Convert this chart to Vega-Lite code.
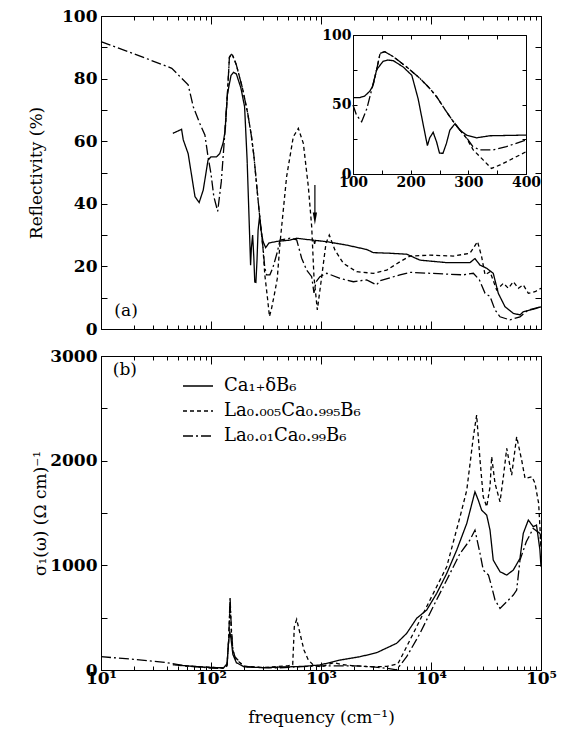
{
  "$schema": "https://vega.github.io/schema/vega-lite/v6.json",
  "background": "white",
  "padding": {"left": 27, "top": 6, "right": 5, "bottom": 5},
  "config": {
    "view": {"stroke": "black", "strokeWidth": 1},
    "axis": {
      "labelFont": "DejaVu Serif", "labelFontWeight": "bold", "labelFontSize": 17, "labelColor": "black",
      "titleFont": "DejaVu Serif", "titleFontWeight": "normal", "titleFontSize": 17, "titleColor": "black",
      "domainColor": "black", "tickColor": "black", "tickOpacity": 1, "tickWidth": 1, "grid": false, "labelFlush": false, "labelOverlap": false
    },
    "legend": {
      "orient": "none", "legendX": 81, "legendY": 14, "symbolType": "stroke", "symbolSize": 900,
      "symbolStrokeWidth": 1.3, "symbolStrokeColor": "black", "labelFont": "DejaVu Serif", "labelFontSize": 18,
      "labelColor": "black", "labelOffset": 10, "rowPadding": 0, "padding": 0, "labelLimit": 400
    }
  },
  "datasets": {
    "refl": [
      {"s":"A","f":45,"r":62.5},{"s":"A","f":54,"r":63.8},{"s":"A","f":56,"r":60.4},{"s":"A","f":62,"r":56},
      {"s":"A","f":71.5,"r":42.3},{"s":"A","f":78,"r":40.4},{"s":"A","f":85,"r":44.4},{"s":"A","f":94,"r":54},
      {"s":"A","f":100,"r":55},{"s":"A","f":112,"r":55},{"s":"A","f":120,"r":56},{"s":"A","f":129,"r":59.5},
      {"s":"A","f":134,"r":63},{"s":"A","f":141,"r":75},{"s":"A","f":152,"r":81},{"s":"A","f":160,"r":82},
      {"s":"A","f":170,"r":81.5},{"s":"A","f":187,"r":77},{"s":"A","f":202,"r":71},{"s":"A","f":213,"r":54},
      {"s":"A","f":222,"r":35},{"s":"A","f":229,"r":20.4},{"s":"A","f":233,"r":26},{"s":"A","f":239,"r":30},
      {"s":"A","f":245,"r":23},{"s":"A","f":250,"r":15},{"s":"A","f":256,"r":14.9},{"s":"A","f":262,"r":22},
      {"s":"A","f":268,"r":31.6},{"s":"A","f":277,"r":36.2},{"s":"A","f":285,"r":31.6},{"s":"A","f":297,"r":28},
      {"s":"A","f":314,"r":26},{"s":"A","f":337,"r":27.5},{"s":"A","f":400,"r":28},{"s":"A","f":523,"r":28.4},
      {"s":"A","f":601,"r":29},{"s":"A","f":741,"r":28.6},{"s":"A","f":860,"r":28.4},{"s":"A","f":875,"r":27.2},
      {"s":"A","f":890,"r":28.3},{"s":"A","f":1127,"r":27.9},{"s":"A","f":1713,"r":26.8},{"s":"A","f":2603,"r":25.4},
      {"s":"A","f":2990,"r":24.4},{"s":"A","f":4240,"r":24.2},{"s":"A","f":6010,"r":23.9},{"s":"A","f":7943,"r":22},
      {"s":"A","f":13900,"r":21.2},{"s":"A","f":22600,"r":21.2},{"s":"A","f":25100,"r":22.5},{"s":"A","f":27900,"r":20.4},
      {"s":"A","f":32100,"r":19.4},{"s":"A","f":36800,"r":17.8},{"s":"A","f":40900,"r":11.4},{"s":"A","f":47100,"r":7.1},
      {"s":"A","f":56000,"r":5},{"s":"A","f":64400,"r":4.5},{"s":"A","f":69000,"r":5.5},{"s":"A","f":85000,"r":6.3},
      {"s":"A","f":100000,"r":7.1},
      {"s":"B","f":135,"r":64},{"s":"B","f":141,"r":75},{"s":"B","f":147,"r":86.8},{"s":"B","f":155,"r":88},
      {"s":"B","f":170,"r":84.4},{"s":"B","f":193,"r":77},{"s":"B","f":216,"r":68.8},{"s":"B","f":233,"r":61.6},
      {"s":"B","f":245,"r":55.6},{"s":"B","f":262,"r":44.8},{"s":"B","f":277,"r":36},{"s":"B","f":297,"r":25.7},
      {"s":"B","f":308.5,"r":17.3},{"s":"B","f":326,"r":10},{"s":"B","f":340,"r":4},{"s":"B","f":355,"r":6.5},
      {"s":"B","f":378,"r":11.3},{"s":"B","f":400,"r":16},{"s":"B","f":424,"r":27.4},{"s":"B","f":487,"r":48.7},
      {"s":"B","f":560,"r":61.4},{"s":"B","f":622,"r":64.1},{"s":"B","f":691,"r":59.3},{"s":"B","f":767,"r":45.5},
      {"s":"B","f":823,"r":32.7},{"s":"B","f":863,"r":16.7},{"s":"B","f":926,"r":6.1},{"s":"B","f":1015,"r":16.7},
      {"s":"B","f":1110,"r":27.4},{"s":"B","f":1190,"r":30},{"s":"B","f":1340,"r":25.2},{"s":"B","f":1595,"r":21},
      {"s":"B","f":2110,"r":18.3},{"s":"B","f":2990,"r":17.8},{"s":"B","f":3953,"r":18.8},{"s":"B","f":5224,"r":21.5},
      {"s":"B","f":6440,"r":23.3},{"s":"B","f":9790,"r":23.6},{"s":"B","f":15960,"r":23.3},{"s":"B","f":22600,"r":24.2},
      {"s":"B","f":26500,"r":27.9},{"s":"B","f":28850,"r":23.1},{"s":"B","f":31000,"r":17.3},{"s":"B","f":34400,"r":18.3},
      {"s":"B","f":39500,"r":12.5},{"s":"B","f":45500,"r":14.6},{"s":"B","f":50500,"r":13},{"s":"B","f":56000,"r":15.1},
      {"s":"B","f":62200,"r":13},{"s":"B","f":69000,"r":14.1},{"s":"B","f":76700,"r":11.4},{"s":"B","f":88200,"r":11.9},
      {"s":"B","f":100000,"r":13},
      {"s":"C","f":10,"r":91.8},{"s":"C","f":19.7,"r":88},{"s":"C","f":44,"r":83.3},{"s":"C","f":62,"r":78},
      {"s":"C","f":69,"r":71},{"s":"C","f":79,"r":65.7},{"s":"C","f":88,"r":62},{"s":"C","f":94,"r":55},
      {"s":"C","f":100,"r":49.6},{"s":"C","f":106,"r":42.4},{"s":"C","f":115,"r":37.6},{"s":"C","f":124,"r":47},
      {"s":"C","f":132,"r":60},{"s":"C","f":141,"r":75},{"s":"C","f":147,"r":86.8},{"s":"C","f":155,"r":88},
      {"s":"C","f":170,"r":84.4},{"s":"C","f":193,"r":77},{"s":"C","f":216,"r":68.8},{"s":"C","f":233,"r":61.6},
      {"s":"C","f":245,"r":55.6},{"s":"C","f":262,"r":44.8},{"s":"C","f":277,"r":36},{"s":"C","f":297,"r":26},
      {"s":"C","f":308,"r":19.7},{"s":"C","f":320,"r":17.3},{"s":"C","f":343,"r":17.3},{"s":"C","f":366,"r":19.7},
      {"s":"C","f":400,"r":24.5},{"s":"C","f":424,"r":28.4},{"s":"C","f":523,"r":29},{"s":"C","f":601,"r":28.5},
      {"s":"C","f":667,"r":22.6},{"s":"C","f":741,"r":18.8},{"s":"C","f":823,"r":16.7},{"s":"C","f":863,"r":11.5},
      {"s":"C","f":900,"r":15},{"s":"C","f":977,"r":16.7},{"s":"C","f":1127,"r":17.8},{"s":"C","f":1490,"r":16.2},
      {"s":"C","f":1970,"r":15.1},{"s":"C","f":2603,"r":15.7},{"s":"C","f":3200,"r":14.1},{"s":"C","f":3437,"r":15.4},
      {"s":"C","f":5224,"r":17.3},{"s":"C","f":6440,"r":18.1},{"s":"C","f":9790,"r":17.8},{"s":"C","f":19680,"r":17.3},
      {"s":"C","f":24270,"r":17.8},{"s":"C","f":27540,"r":15.7},{"s":"C","f":31000,"r":11.4},{"s":"C","f":34400,"r":10.4},
      {"s":"C","f":38200,"r":6.1},{"s":"C","f":42400,"r":3.9},{"s":"C","f":52200,"r":2.9},{"s":"C","f":64400,"r":3.9},
      {"s":"C","f":76700,"r":6.1},{"s":"C","f":100000,"r":7.1}
    ],
    "cond": [
      {"s":"A","f":45,"c":50},{"s":"A","f":60,"c":40},{"s":"A","f":80,"c":30},{"s":"A","f":100,"c":25},
      {"s":"A","f":130,"c":20},{"s":"A","f":140,"c":60},{"s":"A","f":144,"c":250},{"s":"A","f":148,"c":370},
      {"s":"A","f":152,"c":300},{"s":"A","f":158,"c":150},{"s":"A","f":170,"c":70},{"s":"A","f":200,"c":30},
      {"s":"A","f":300,"c":22},{"s":"A","f":500,"c":30},{"s":"A","f":700,"c":35},{"s":"A","f":977,"c":48},
      {"s":"A","f":1490,"c":95},{"s":"A","f":2264,"c":127},{"s":"A","f":3200,"c":165},{"s":"A","f":4870,"c":255},
      {"s":"A","f":6010,"c":350},{"s":"A","f":7410,"c":494},{"s":"A","f":9140,"c":573},{"s":"A","f":11280,"c":733},
      {"s":"A","f":13900,"c":923},{"s":"A","f":17140,"c":1146},{"s":"A","f":21150,"c":1401},{"s":"A","f":25100,"c":1703},
      {"s":"A","f":26900,"c":1623},{"s":"A","f":28850,"c":1528},{"s":"A","f":32100,"c":1480},{"s":"A","f":34400,"c":1337},
      {"s":"A","f":36800,"c":1050},{"s":"A","f":42400,"c":939},{"s":"A","f":48800,"c":907},{"s":"A","f":56000,"c":955},
      {"s":"A","f":64400,"c":1066},{"s":"A","f":69000,"c":1305},{"s":"A","f":76700,"c":1433},{"s":"A","f":85000,"c":1369},
      {"s":"A","f":91000,"c":1385},{"s":"A","f":97700,"c":1150},{"s":"A","f":100000,"c":987},
      {"s":"B","f":50,"c":45},{"s":"B","f":80,"c":30},{"s":"B","f":100,"c":25},{"s":"B","f":130,"c":20},
      {"s":"B","f":140,"c":50},{"s":"B","f":145,"c":300},{"s":"B","f":149,"c":650},{"s":"B","f":153,"c":380},
      {"s":"B","f":158,"c":190},{"s":"B","f":165,"c":110},{"s":"B","f":200,"c":35},{"s":"B","f":300,"c":25},
      {"s":"B","f":500,"c":40},{"s":"B","f":553,"c":50},{"s":"B","f":572,"c":414},{"s":"B","f":601,"c":484},
      {"s":"B","f":644,"c":350},{"s":"B","f":700,"c":191},{"s":"B","f":767,"c":95},{"s":"B","f":851,"c":48},
      {"s":"B","f":1000,"c":30},{"s":"B","f":1300,"c":70},{"s":"B","f":1600,"c":50},{"s":"B","f":2000,"c":40},
      {"s":"B","f":3000,"c":30},{"s":"B","f":4000,"c":35},{"s":"B","f":5000,"c":60},{"s":"B","f":5600,"c":159},
      {"s":"B","f":7410,"c":414},{"s":"B","f":9790,"c":669},{"s":"B","f":13900,"c":987},{"s":"B","f":18370,"c":1464},
      {"s":"B","f":21150,"c":1719},{"s":"B","f":24270,"c":2228},{"s":"B","f":26000,"c":2435},{"s":"B","f":27900,"c":2006},
      {"s":"B","f":29850,"c":1655},{"s":"B","f":32100,"c":1560},{"s":"B","f":34400,"c":1751},{"s":"B","f":35600,"c":2037},
      {"s":"B","f":38200,"c":1783},{"s":"B","f":42400,"c":1607},{"s":"B","f":45500,"c":1846},{"s":"B","f":48800,"c":2117},
      {"s":"B","f":54100,"c":1862},{"s":"B","f":60100,"c":2228},{"s":"B","f":66700,"c":2006},{"s":"B","f":71600,"c":1831},
      {"s":"B","f":83000,"c":1846},{"s":"B","f":88200,"c":1783},{"s":"B","f":95200,"c":1592},{"s":"B","f":100000,"c":1178},
      {"s":"C","f":10,"c":127},{"s":"C","f":19.7,"c":102},{"s":"C","f":39.6,"c":70},{"s":"C","f":60,"c":38},
      {"s":"C","f":98,"c":19},{"s":"C","f":129,"c":15},{"s":"C","f":140,"c":40},{"s":"C","f":145,"c":300},
      {"s":"C","f":149,"c":700},{"s":"C","f":153,"c":400},{"s":"C","f":158,"c":200},{"s":"C","f":165,"c":127},
      {"s":"C","f":197,"c":38},{"s":"C","f":250,"c":25},{"s":"C","f":400,"c":20},{"s":"C","f":600,"c":30},
      {"s":"C","f":1000,"c":40},{"s":"C","f":2000,"c":40},{"s":"C","f":3000,"c":30},{"s":"C","f":4000,"c":15},
      {"s":"C","f":4870,"c":2},{"s":"C","f":6010,"c":127},{"s":"C","f":7943,"c":350},{"s":"C","f":10460,"c":605},
      {"s":"C","f":13900,"c":860},{"s":"C","f":18370,"c":1114},{"s":"C","f":22600,"c":1242},{"s":"C","f":25100,"c":1337},
      {"s":"C","f":27900,"c":1114},{"s":"C","f":29850,"c":955},{"s":"C","f":33300,"c":907},{"s":"C","f":35600,"c":796},
      {"s":"C","f":38200,"c":669},{"s":"C","f":42400,"c":589},{"s":"C","f":48800,"c":652},{"s":"C","f":56000,"c":716},
      {"s":"C","f":60100,"c":764},{"s":"C","f":64400,"c":1050},{"s":"C","f":73500,"c":1225},{"s":"C","f":85000,"c":1353},
      {"s":"C","f":97700,"c":1305},{"s":"C","f":100000,"c":1178}
    ],
    "one": [{"k": 1}]
  },
  "bounds": "flush",
  "spacing": 27,
  "resolve": {"scale": {"strokeDash": "independent"}, "legend": {"strokeDash": "independent"}},
  "vconcat": [
    {
      "width": 440, "height": 313,
      "resolve": {"scale": {"x": "independent", "y": "independent"}, "axis": {"x": "independent", "y": "independent"}},
      "layer": [
        {
          "resolve": {"axis": {"x": "independent", "y": "independent"}},
          "layer": [
            {
              "data": {"name": "refl"},
              "mark": {"type": "line", "color": "black", "strokeWidth": 1.3},
              "encoding": {
                "x": {"field": "f", "type": "quantitative", "scale": {"type": "log", "domain": [10, 100000]},
                  "axis": {"orient": "bottom", "labels": false, "ticks": false, "title": null}},
                "y": {"field": "r", "type": "quantitative", "scale": {"domain": [0, 100]},
                  "axis": {"orient": "left", "title": "Reflectivity (%)", "titlePadding": 16, "ticks": false, "labelPadding": 4,
                    "values": [0,20,40,60,80,100]}},
                "strokeDash": {"field": "s", "type": "nominal",
                  "scale": {"domain": ["A","B","C"], "range": [[1,0],[4,3],[10,3,2,3]]}, "legend": null}
              }
            },
            {
              "data": {"name": "one"},
              "mark": {"type": "text", "font": "DejaVu Serif", "fontSize": 17, "align": "center", "baseline": "middle", "color": "black"},
              "encoding": {
                "x": {"datum": 16.9, "type": "quantitative",
                  "axis": {"orient": "top", "offset": -313, "labels": false, "title": null, "domain": false, "ticks": true, "tickColor": "black",
                    "values": [10,20,30,40,50,60,70,80,90,100,200,300,400,500,600,700,800,900,1000,2000,3000,4000,5000,6000,7000,8000,9000,10000,20000,30000,40000,50000,60000,70000,80000,90000,100000],
                    "tickSize": {"condition": {"test": "indexof([10,100,1000,10000,100000], datum.value) >= 0", "value": 8}, "value": 4}}},
                "y": {"datum": 5.8, "type": "quantitative",
                  "axis": {"orient": "right", "offset": -440, "labels": false, "title": null, "domain": false, "ticks": true, "tickColor": "black", "tickSize": 6,
                    "values": [0,10,20,30,40,50,60,70,80,90,100]}},
                "text": {"value": "(a)"}
              }
            },
            {
              "data": {"name": "one"},
              "mark": {"type": "rule", "color": "black", "strokeWidth": 1.2},
              "encoding": {
                "x": {"datum": 880, "type": "quantitative",
                  "axis": {"orient": "bottom", "offset": -313, "labels": false, "title": null, "domain": false, "ticks": true, "tickColor": "black",
                    "values": [10,20,30,40,50,60,70,80,90,100,200,300,400,500,600,700,800,900,1000,2000,3000,4000,5000,6000,7000,8000,9000,10000,20000,30000,40000,50000,60000,70000,80000,90000,100000],
                    "tickSize": {"condition": {"test": "indexof([10,100,1000,10000,100000], datum.value) >= 0", "value": 8}, "value": 4}}},
                "y": {"datum": 46, "type": "quantitative",
                  "axis": {"orient": "left", "offset": -440, "labels": false, "title": null, "domain": false, "ticks": true, "tickColor": "black", "tickSize": 6,
                    "values": [0,10,20,30,40,50,60,70,80,90,100]}},
                "y2": {"datum": 37}
              }
            },
            {
              "data": {"name": "one"},
              "mark": {"type": "point", "shape": "M -0.35 -1 L 0.35 -1 L 0 1 Z", "filled": true, "color": "black", "opacity": 1, "size": 150},
              "encoding": {
                "x": {"datum": 880, "type": "quantitative", "axis": null},
                "y": {"datum": 35.3, "type": "quantitative", "axis": null}
              }
            }
          ]
        },
        {
          "resolve": {"axis": {"x": "independent", "y": "independent"}},
          "layer": [
            {
              "data": {"name": "refl"},
              "transform": [{"filter": "datum.f >= 100 && datum.f <= 400"}],
              "mark": {"type": "line", "color": "black", "strokeWidth": 1.3, "clip": true},
              "encoding": {
                "x": {"field": "f", "type": "quantitative", "scale": {"domain": [100, 400], "range": [252, 425]},
                  "axis": {"orient": "bottom", "offset": -155, "title": null, "labelFontSize": 14, "ticks": false, "labelPadding": 1,
                    "values": [100,200,300,400]}},
                "y": {"field": "r", "type": "quantitative", "scale": {"domain": [0, 100], "range": [158, 19]},
                  "axis": {"orient": "left", "offset": -252, "title": null, "labelFontSize": 14, "ticks": false, "labelPadding": 2,
                    "values": [0,50,100]}},
                "strokeDash": {"field": "s", "type": "nominal",
                  "scale": {"domain": ["A","B","C"], "range": [[1,0],[4,3],[10,3,2,3]]}, "legend": null}
              }
            },
            {
              "data": {"name": "one"},
              "mark": {"type": "text", "text": ""},
              "encoding": {
                "x": {"datum": 100, "type": "quantitative",
                  "axis": {"orient": "top", "offset": -158, "labels": false, "title": null, "ticks": true, "tickColor": "black", "tickSize": 4,
                    "values": [100,150,200,250,300,350,400]}},
                "y": {"datum": 0, "type": "quantitative",
                  "axis": {"orient": "right", "offset": -188, "labels": false, "title": null, "ticks": true, "tickColor": "black", "tickSize": 4,
                    "values": [0,25,50,75,100]}}
              }
            },
            {
              "data": {"name": "one"},
              "mark": {"type": "text", "text": ""},
              "encoding": {
                "x": {"datum": 100, "type": "quantitative",
                  "axis": {"orient": "bottom", "offset": -294, "labels": false, "title": null, "ticks": true, "tickColor": "black", "tickSize": 4,
                    "values": [100,150,200,250,300,350,400]}},
                "y": {"datum": 0, "type": "quantitative",
                  "axis": {"orient": "left", "offset": -425, "labels": false, "title": null, "ticks": true, "tickColor": "black", "tickSize": 4,
                    "values": [0,25,50,75,100]}}
              }
            }
          ]
        }
      ]
    },
    {
      "width": 440, "height": 314,
      "resolve": {"axis": {"x": "independent", "y": "independent"}},
      "layer": [
        {
          "data": {"name": "cond"},
          "mark": {"type": "line", "color": "black", "strokeWidth": 1.3},
          "encoding": {
            "x": {"field": "f", "type": "quantitative", "scale": {"type": "log", "domain": [10, 100000]},
              "axis": {"orient": "bottom", "title": "frequency (cm⁻¹)", "titlePadding": 23, "labelPadding": 0, "ticks": false,
                "values": [10,100,1000,10000,100000],
                "labelExpr": "'10' + ['⁰','¹','²','³','⁴','⁵'][round(log(datum.value)/LN10)]"}},
            "y": {"field": "c", "type": "quantitative", "scale": {"domain": [0, 3000]},
              "axis": {"orient": "left", "title": "σ₁(ω) (Ω cm)⁻¹", "titlePadding": 0, "ticks": false, "labelPadding": 4,
                "values": [0,1000,2000,3000], "format": "d"}},
            "strokeDash": {"field": "s", "type": "nominal",
              "scale": {"domain": ["A","B","C"], "range": [[1,0],[4,3],[10,3,2,3]]},
              "legend": {"title": null,
                "labelExpr": "datum.label === 'A' ? 'Ca₁₊δB₆' : datum.label === 'B' ? 'La₀.₀₀₅Ca₀.₉₉₅B₆' : 'La₀.₀₁Ca₀.₉₉B₆'"}}
          }
        },
        {
          "data": {"name": "one"},
          "mark": {"type": "text", "font": "DejaVu Serif", "fontSize": 17, "align": "center", "baseline": "middle", "color": "black"},
          "encoding": {
            "x": {"datum": 16.5, "type": "quantitative",
              "axis": {"orient": "top", "offset": -314, "labels": false, "title": null, "domain": false, "ticks": true, "tickColor": "black",
                "values": [10,20,30,40,50,60,70,80,90,100,200,300,400,500,600,700,800,900,1000,2000,3000,4000,5000,6000,7000,8000,9000,10000,20000,30000,40000,50000,60000,70000,80000,90000,100000],
                "tickSize": {"condition": {"test": "indexof([10,100,1000,10000,100000], datum.value) >= 0", "value": 8}, "value": 4}}},
            "y": {"datum": 2865, "type": "quantitative",
              "axis": {"orient": "right", "offset": -440, "labels": false, "title": null, "domain": false, "ticks": true, "tickColor": "black", "tickSize": 6,
                "values": [0,500,1000,1500,2000,2500,3000]}},
            "text": {"value": "(b)"}
          }
        },
        {
          "data": {"name": "one"},
          "mark": {"type": "text", "text": ""},
          "encoding": {
            "x": {"datum": 100, "type": "quantitative",
              "axis": {"orient": "bottom", "offset": -314, "labels": false, "title": null, "domain": false, "ticks": true, "tickColor": "black",
                "values": [10,20,30,40,50,60,70,80,90,100,200,300,400,500,600,700,800,900,1000,2000,3000,4000,5000,6000,7000,8000,9000,10000,20000,30000,40000,50000,60000,70000,80000,90000,100000],
                "tickSize": {"condition": {"test": "indexof([10,100,1000,10000,100000], datum.value) >= 0", "value": 8}, "value": 4}}},
            "y": {"datum": 0, "type": "quantitative",
              "axis": {"orient": "left", "offset": -440, "labels": false, "title": null, "domain": false, "ticks": true, "tickColor": "black", "tickSize": 6,
                "values": [0,500,1000,1500,2000,2500,3000]}}
          }
        }
      ]
    }
  ]
}
